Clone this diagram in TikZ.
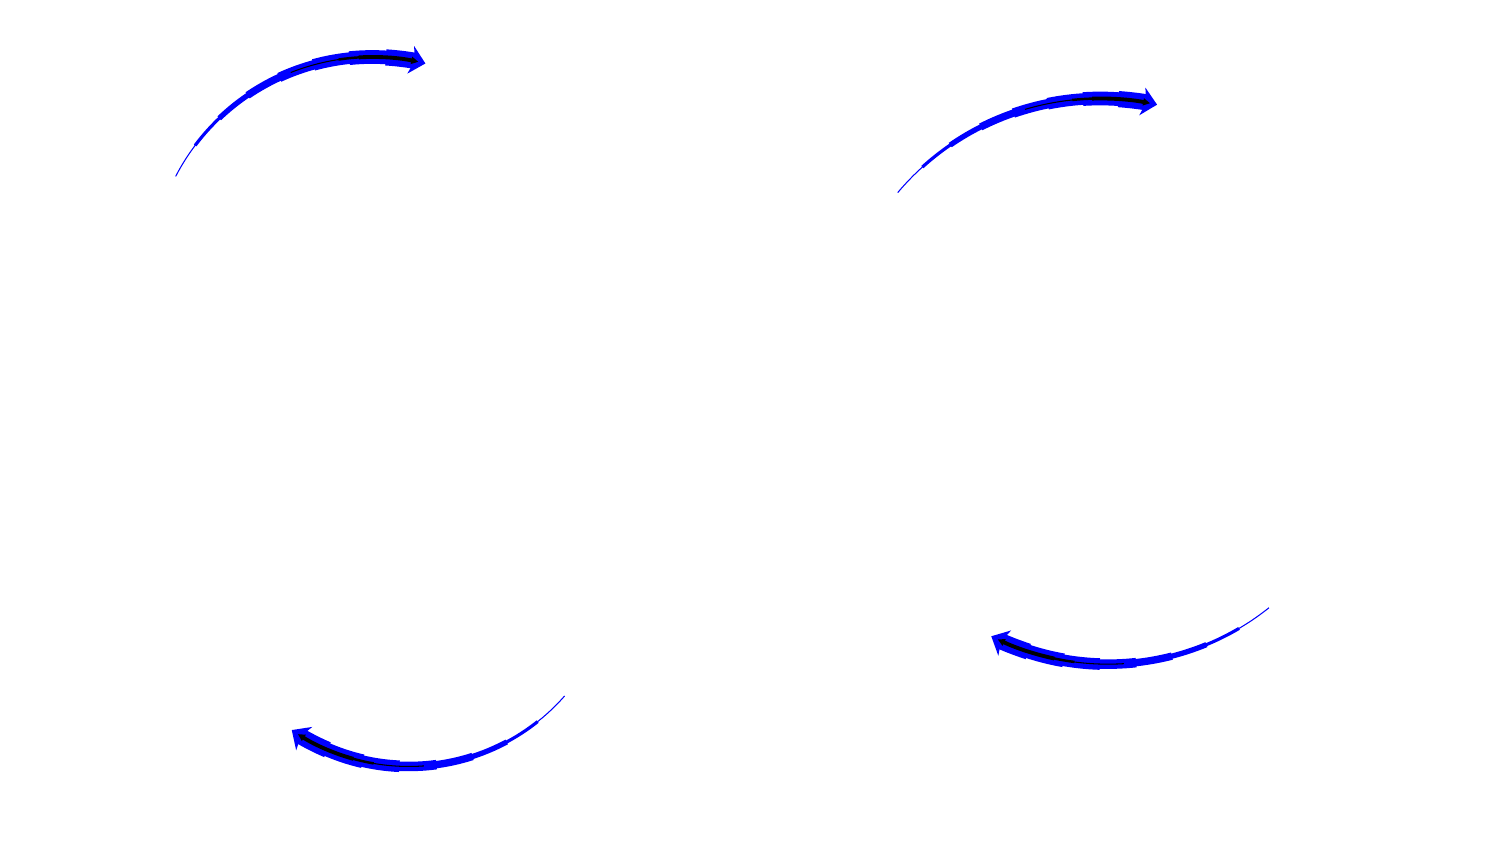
\documentclass[tikz,border=0pt]{standalone}
\usetikzlibrary{arrows.meta}

\tikzstyle{body} = [draw=blue, line cap=butt]
\tikzstyle{core} = [draw=black, line cap=butt]

% one tapered arc: centre x, centre y, radius, tail angle, tip angle
\newcommand{\taperarrow}[5]{%
  % the blue body, thin at the tail
  \foreach \k in {1,...,7} {
    \pgfmathsetmacro{\a}{#4+(\k-1.1)*(#5-#4)/8}
    \pgfmathsetmacro{\b}{#4+\k*(#5-#4)/8}
    \path[body, line width=\k*0.6pt-0.3pt] (#1,#2) ++(\a:#3) arc[start angle=\a, end angle=\b, radius=#3];
  }
  \pgfmathsetmacro{\a}{#4+6.9*(#5-#4)/8}
  \path[body, line width=4.6pt, -{Stealth[length=0.15cm, width=0.28cm, inset=0.04cm]}]
    (#1,#2) ++(\a:#3) arc[start angle=\a, end angle=#5, radius=#3];
  % the black core
  \foreach \f/\g/\w in {0.53/0.71/0.3, 0.70/0.78/0.7} {
    \pgfmathsetmacro{\a}{#4+\f*(#5-#4)}
    \pgfmathsetmacro{\b}{#4+\g*(#5-#4)}
    \path[core, line width=\w pt] (#1,#2) ++(\a:#3) arc[start angle=\a, end angle=\b, radius=#3];
  }
  \pgfmathsetmacro{\a}{#4+0.77*(#5-#4)}
  \pgfmathsetmacro{\b}{#4+0.975*(#5-#4)}
  \path[core, line width=1.1pt, -{Triangle[length=0.07cm, width=0.07cm]}]
    (#1,#2) ++(\a:#3) arc[start angle=\a, end angle=\b, radius=#3];
}

\begin{document}
\begin{tikzpicture}

    \useasboundingbox (0,0) rectangle (15,8.44);

    % left pair of arcs
    \taperarrow{3.722}{5.655}{2.215}{151.6}{76.1}
    \taperarrow{4.09}{2.845}{2.07}{-42.3}{-124.5}

    % right pair of arcs
    \taperarrow{11.002}{4.806}{2.649}{139.1}{77.6}
    \taperarrow{11.08}{4.378}{2.58}{-52.2}{-116.9}

\end{tikzpicture}
\end{document}
